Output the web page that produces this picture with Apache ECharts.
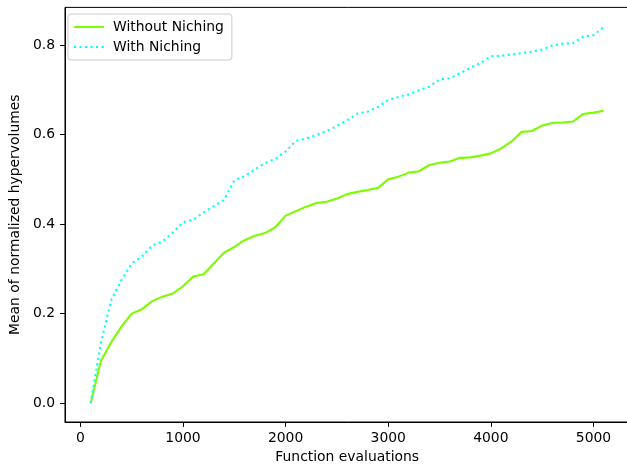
<!DOCTYPE html>
<html>
<head>
<meta charset="utf-8">
<script src="https://cdn.jsdelivr.net/npm/echarts@6/dist/echarts.min.js"></script>
<style>
html,body{margin:0;padding:0;background:#fff;overflow:hidden;}
#chart{width:632px;height:469px;}
</style>
</head>
<body>
<div id="chart"></div>
<script>
const evaluations = [100,200,300,400,500,600,700,800,900,1000,1100,1200,1300,1400,1500,1600,1700,1800,1900,2000,2100,2200,2300,2400,2500,2600,2700,2800,2900,3000,3100,3200,3300,3400,3500,3600,3700,3800,3900,4000,4100,4200,4300,4400,4500,4600,4700,4800,4900,5000,5100];
const withoutNiching = [0.000,0.094,0.136,0.171,0.200,0.210,0.228,0.238,0.245,0.261,0.283,0.288,0.312,0.336,0.349,0.364,0.374,0.380,0.393,0.419,0.429,0.439,0.447,0.450,0.457,0.467,0.472,0.476,0.481,0.500,0.506,0.515,0.518,0.532,0.537,0.540,0.548,0.549,0.553,0.558,0.569,0.584,0.606,0.608,0.620,0.626,0.627,0.629,0.646,0.649,0.653];
const withNiching = [0.000,0.134,0.230,0.275,0.312,0.328,0.352,0.361,0.381,0.404,0.410,0.426,0.440,0.454,0.498,0.507,0.522,0.536,0.546,0.562,0.586,0.591,0.599,0.608,0.619,0.632,0.647,0.651,0.662,0.677,0.684,0.690,0.699,0.707,0.723,0.726,0.737,0.749,0.760,0.775,0.776,0.779,0.782,0.785,0.790,0.799,0.803,0.804,0.819,0.822,0.840];
const xTicks = [0,1000,2000,3000,4000,5000];
const yTicks = [0,0.2,0.4,0.6,0.8];

const font = 'DejaVu Sans';
const fs = 13.9;
const chart = echarts.init(document.getElementById('chart'), null, {renderer:'canvas'});
chart.setOption({
  animation:false,
  backgroundColor:'#fff',
  textStyle:{fontFamily:font},
  grid:{left:61.2, top:7.4, right:2.6, bottom:46.7, show:true, borderColor:'#000', borderWidth:1, containLabel:false},
  legend:{
    orient:'vertical', left:68, top:14,
    backgroundColor:'rgba(255,255,255,0.8)', borderColor:'#cccccc', borderWidth:1, borderRadius:3,
    padding:[6,8,6,5], itemGap:6, itemWidth:30, itemHeight:14,
    itemStyle:{opacity:0},
    textStyle:{fontFamily:font, fontSize:fs, color:'#000', padding:[0,0,0,4]},
    data:['Without Niching','With Niching']
  },
  xAxis:{
    type:'value', min:-150, max:5350,
    name:'Function evaluations', nameLocation:'middle', nameGap:28,
    nameTextStyle:{fontFamily:font, fontSize:fs, color:'#000'},
    axisLine:{show:true, onZero:false, lineStyle:{color:'#000', width:1}},
    axisTick:{show:true, customValues:xTicks, length:4.9, inside:false, lineStyle:{color:'#000', width:1}},
    axisLabel:{customValues:xTicks, margin:9, fontFamily:font, fontSize:fs, color:'#000', formatter:v=>String(v)},
    splitLine:{show:false}
  },
  yAxis:{
    type:'value', min:-0.042, max:0.884,
    name:'Mean of normalized hypervolumes', nameLocation:'middle', nameGap:37, nameRotate:90,
    nameTextStyle:{fontFamily:font, fontSize:fs, color:'#000'},
    axisLine:{show:true, onZero:false, lineStyle:{color:'#000', width:1}},
    axisTick:{show:true, customValues:yTicks, length:4.9, inside:false, lineStyle:{color:'#000', width:1}},
    axisLabel:{customValues:yTicks, margin:10, fontFamily:font, fontSize:fs, color:'#000', formatter:v=>v.toFixed(1)},
    splitLine:{show:false}
  },
  series:[
    {name:'Without Niching', type:'line', symbol:'none', data:evaluations.map((x,i)=>[x,withoutNiching[i]]),
     lineStyle:{color:'#7CFC00', width:2.1, cap:'butt', join:'round'}, itemStyle:{color:'#7CFC00'}},
    {name:'With Niching', type:'line', symbol:'none', data:evaluations.map((x,i)=>[x,withNiching[i]]),
     lineStyle:{color:'#00FFFF', width:2.1, type:[2.1,3.4], cap:'butt'}, itemStyle:{color:'#00FFFF'}}
  ]
});
</script>
</body>
</html>
